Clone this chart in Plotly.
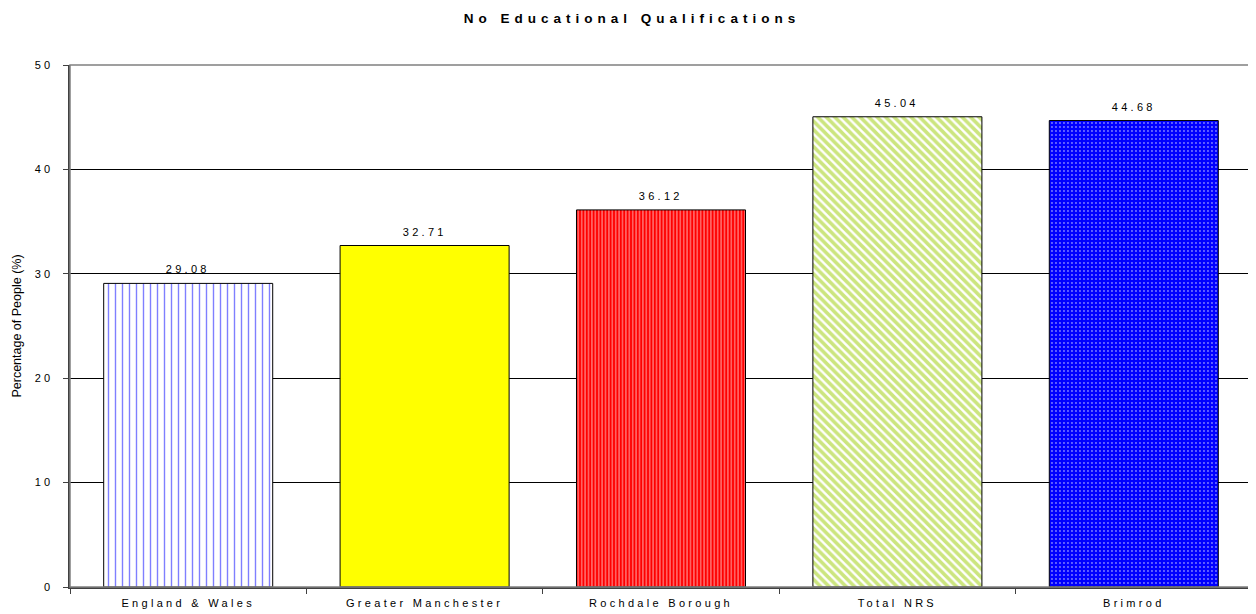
import plotly.graph_objects as go

categories = ["England & Wales", "Greater Manchester", "Rochdale Borough", "Total NRS", "Brimrod"]
values = [29.08, 32.71, 36.12, 45.04, 44.68]
labels = ["29.08", "32.71", "36.12", "45.04", "44.68"]

bg_colors = ["#FFFFFF", "#FFFF00", "#FF0000", "#FFFFFF", "#0000FF"]
fg_colors = ["#0000FF", "#FFFF00", "#FFFFFF", "#99CC00", "#FFFFFF"]
shapes = ["|", "", "|", "\\", "."]
sizes = [7, 8, 3.4, 6, 4]
solid = [0.2, 0.3, 0.38, 0.6, 0.18]

fig = go.Figure()
for i, cat in enumerate(categories):
    fig.add_trace(go.Bar(
        x=[cat], y=[values[i]],
        marker=dict(
            color=bg_colors[i],
            line=dict(color="black", width=1),
            pattern=dict(shape=shapes[i], fgcolor=fg_colors[i],
                         size=sizes[i], solidity=solid[i], fillmode="overlay"),
        ),
        width=0.715,
        name=cat,
        hoverinfo="x+y",
    ))

annotations = [dict(x=categories[i], y=values[i], text=labels[i], showarrow=False,
                    yanchor="bottom", yshift=6, font=dict(size=11, color="black"))
               for i in range(len(categories))]

fig.update_layout(
    width=1248, height=606,
    margin=dict(l=62, r=4, t=57, b=27),
    paper_bgcolor="white", plot_bgcolor="white",
    font=dict(family="Liberation Sans, Arial", size=11, color="black"),
    title=dict(text="<b>No Educational Qualifications</b>", x=0.5, xanchor="center",
               y=1 - 10 / 606, yanchor="middle", font=dict(size=13.5)),
    showlegend=False,
    barmode="overlay",
    annotations=annotations,
    shapes=[dict(type="rect", xref="paper", yref="paper", x0=0, x1=1, y0=0, y1=1,
                 line=dict(color="#808080", width=1.5), layer="above")],
)
fig.update_xaxes(
    showline=True, linecolor="#404040", linewidth=1.5,
    ticks="outside", tickson="boundaries", ticklen=5, tickcolor="#404040",
    tickfont=dict(size=11), showgrid=False, ticklabelstandoff=5,
)
fig.update_yaxes(
    range=[0, 50], dtick=10, showline=True, linecolor="#404040", linewidth=1.5,
    ticks="outside", ticklen=5, tickcolor="#404040",
    showgrid=True, gridcolor="black", gridwidth=1,
    title=dict(text="Percentage of People (%)", font=dict(size=12.5), standoff=16),
    tickfont=dict(size=11), zeroline=False, ticklabelstandoff=8,
)

post = """
var gd = document.getElementById('{plot_id}');
function ls(){
  gd.querySelectorAll('.xtick text').forEach(function(t){t.style.letterSpacing='3.3px';});
  gd.querySelectorAll('.ytick text').forEach(function(t){t.style.letterSpacing='3px';});
  gd.querySelectorAll('.annotation-text').forEach(function(t){t.style.letterSpacing='3.3px';});
  gd.querySelectorAll('.gtitle').forEach(function(t){t.style.letterSpacing='5px';});
}
ls();
gd.on('plotly_afterplot', ls);
"""
fig.write_html("out.html", post_script=post)
